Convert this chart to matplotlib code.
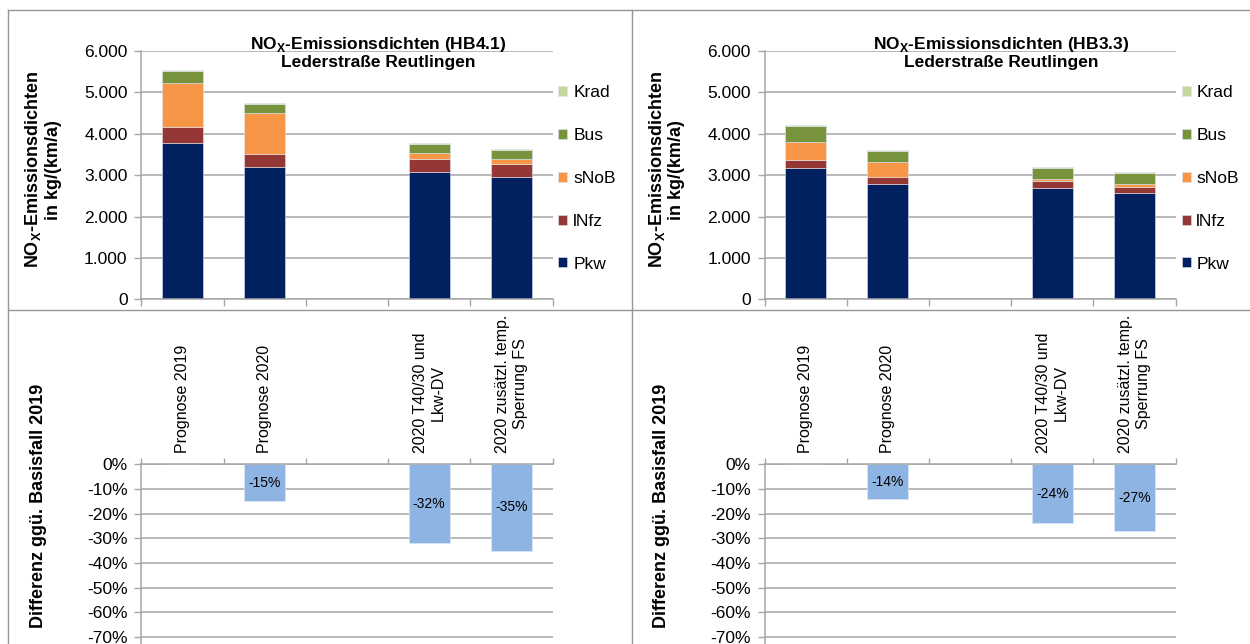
import numpy as np
import matplotlib
matplotlib.use("Agg")
import matplotlib.pyplot as plt
import matplotlib.ticker as mticker
from matplotlib.lines import Line2D

plt.rcParams["font.family"] = ["Liberation Sans", "DejaVu Sans"]
plt.rcParams["axes.unicode_minus"] = False

# Daten
kategorien = ["Prognose 2019", "Prognose 2020", "",
              "2020 T40/30 und\nLkw-DV", "2020 zusätzl. temp.\nSperrung FS"]
fahrzeuge = ["Pkw", "lNfz", "sNoB", "Bus", "Krad"]
farben = ["#002060", "#953735", "#F79646", "#77933C", "#C3D69B"]

# HB4.1  (kg/(km*a))
hb41_pkw  = [3785, 3205, np.nan, 3085, 2965]
hb41_lnfz = [380, 315, np.nan, 305, 305]
hb41_snob = [1055, 975, np.nan, 137, 130]
hb41_bus  = [305, 217, np.nan, 225, 217]
hb41_krad = [25, 25, np.nan, 25, 25]
hb41_diff = [0, -15, np.nan, -32, -35]   # % ggü. Basisfall 2019

# HB3.3
hb33_pkw  = [3175, 2785, np.nan, 2700, 2578]
hb33_lnfz = [190, 160, np.nan, 160, 145]
hb33_snob = [435, 370, np.nan, 48, 65]
hb33_bus  = [390, 275, np.nan, 275, 273]
hb33_krad = [24, 24, np.nan, 24, 24]
hb33_diff = [0, -14, np.nan, -24, -27]

GRAU = "#a6a6a6"
RAHMEN = "#969696"
W, H = 1250, 644

fig = plt.figure(figsize=(12.5, 6.44), dpi=100)


def fx(px):
    return px / W


def fy(py):
    return 1 - py / H


def oberes_diagramm(x0, stapel, hb, title_x):
    ax = fig.add_axes([fx(x0), fy(299.3), fx(411.1), 248.3 / H])
    x = np.arange(len(kategorien))
    unten = np.zeros(len(kategorien))
    handles = []
    for werte, name, col in zip(stapel, fahrzeuge, farben):
        werte = np.array(werte, dtype=float)
        b = ax.bar(x, werte, 0.5, bottom=unten, color=col, label=name,
                   edgecolor="#dfe5ef", linewidth=0.4)
        handles.append(b)
        unten = unten + np.nan_to_num(werte)
    ax.set_xlim(-0.5, 4.5)
    ax.set_ylim(0, 6000)
    ax.set_yticks(np.arange(0, 6001, 1000))
    ax.yaxis.set_major_formatter(mticker.FuncFormatter(
        lambda v, _: f"{v:,.0f}".replace(",", ".")))
    ax.set_xticks([])
    ax.set_xticks(np.arange(-0.5, 5, 1), minor=True)
    ax.tick_params(axis="x", which="minor", length=5, color=GRAU, width=1)
    ax.tick_params(axis="y", length=5, color=GRAU, width=1, pad=5, labelsize=12.5)
    ax.grid(axis="y", color=GRAU, linewidth=1.1)
    ax.set_axisbelow(True)
    ax.spines[["top", "right"]].set_visible(False)
    ax.spines[["left", "bottom"]].set_color(GRAU)
    ax.spines[["left", "bottom"]].set_linewidth(1.1)

    fig.text(fx(title_x), fy(52.5),
             f"NO$_\\mathregular{{X}}$-Emissionsdichten ({hb})\nLederstraße Reutlingen",
             ha="center", va="center", fontsize=12.5, fontweight="bold",
             linespacing=1.15)
    fig.text(fx(x0 - 98.9), fy(170),
             "NO$_\\mathregular{X}$-Emissionsdichten\nin kg/(km/a)",
             rotation=90, ha="center", va="center", fontsize=13,
             fontweight="bold", linespacing=1.1)

    fig.legend(handles[::-1], fahrzeuge[::-1], loc="center left",
               bbox_to_anchor=(fx(x0 + 417), fy(178.5)), frameon=False,
               fontsize=12.5, handlelength=0.52, handleheight=0.52,
               handletextpad=0.33, labelspacing=1.6, borderpad=0,
               borderaxespad=0)
    return ax


def unteres_diagramm(x0, diff):
    # 0 % bei y=464.3 px, 24.67 px je 10 %
    ax = fig.add_axes([fx(x0), fy(464.3 + 197.3), fx(411.1), 197.3 / H])
    x = np.arange(len(kategorien))
    werte = np.array(diff, dtype=float)
    ax.bar(x, werte, 0.5, color="#8EB4E3", edgecolor="#dfe8f5", linewidth=0.4)
    for xi, v in zip(x, werte):
        if np.isfinite(v) and v != 0:
            ax.text(xi, v / 2, f"{v:.0f}%", ha="center", va="center",
                    fontsize=10)
    ax.set_xlim(-0.5, 4.5)
    ax.set_ylim(-80, 0)
    ax.set_yticks(np.arange(-80, 1, 10))
    ax.yaxis.set_major_formatter(mticker.FuncFormatter(lambda v, _: f"{v:.0f}%"))
    ax.xaxis.tick_top()
    ax.set_xticks(x)
    ax.set_xticklabels(kategorien, rotation=90, fontsize=11.5)
    ax.set_xticks(np.arange(-0.5, 5, 1), minor=True)
    ax.tick_params(axis="x", which="major", length=0, pad=8)
    ax.tick_params(axis="x", which="minor", length=4, color=GRAU, width=1)
    ax.tick_params(axis="y", length=5, color=GRAU, width=1, pad=5, labelsize=12.5)
    ax.grid(axis="y", color=GRAU, linewidth=1.1)
    ax.set_axisbelow(True)
    ax.spines[["bottom", "right"]].set_visible(False)
    ax.spines[["left", "top"]].set_color(GRAU)
    ax.spines[["left", "top"]].set_linewidth(1.1)
    fig.text(fx(x0 - 103), fy(506), "Differenz ggü. Basisfall 2019",
             rotation=90, ha="center", va="center", fontsize=13,
             fontweight="bold")
    return ax


oberes_diagramm(141.4, [hb41_pkw, hb41_lnfz, hb41_snob, hb41_bus, hb41_krad],
                "HB4.1", 378.5)
oberes_diagramm(764.6, [hb33_pkw, hb33_lnfz, hb33_snob, hb33_bus, hb33_krad],
                "HB3.3", 1001)
unteres_diagramm(141.4, hb41_diff)
unteres_diagramm(764.6, hb33_diff)

# Rahmen der Diagrammbereiche
for xs, ys in [((8, W), (10, 10)), ((8, 8), (10, H)),
               ((632, 632), (10, H)), ((8, W), (309.5, 309.5))]:
    fig.add_artist(Line2D([fx(xs[0]), fx(xs[1])], [fy(ys[0]), fy(ys[1])],
                          color=RAHMEN, linewidth=1.0,
                          transform=fig.transFigure))

fig.savefig("out.png", dpi=100)
